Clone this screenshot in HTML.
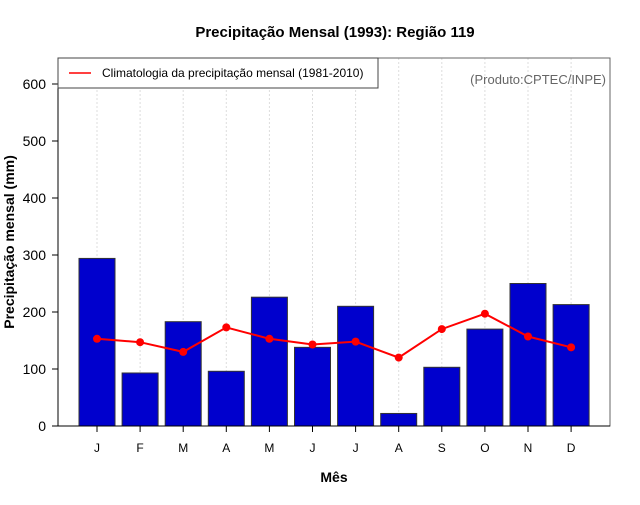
<!DOCTYPE html>
<html><head><meta charset="utf-8"><style>
body{margin:0;background:#fff}
svg{font-family:"Liberation Sans",sans-serif}
</style></head><body>
<svg id="c" width="640" height="500" xmlns="http://www.w3.org/2000/svg"></svg>
<script>
const months=["J","F","M","A","M","J","J","A","S","O","N","D"];
const precip=[294,93,183,96,226,138,210,22,103,170,250,213];
const clim=[153,147,130,173,153,143,148,120,170,197,157,138];
const yTicks=[0,100,200,300,400,500,600];
const svg=document.getElementById('c');
const NS='http://www.w3.org/2000/svg';
const L=58,R=610,T=58,B=426;
const y=v=>426-v*0.57;
const x=i=>97+i*43.1;
function add(tag,attrs,name,text){const e=document.createElementNS(NS,tag);for(const k in attrs)e.setAttribute(k,attrs[k]);


if(text!==undefined)e.textContent=text;svg.appendChild(e);return e;}
add('text',{x:335,y:37,'text-anchor':'middle','font-size':15,'font-weight':'bold'},'chart-title','Precipitação Mensal (1993): Região 119');
months.forEach((m,i)=>add('line',{x1:x(i),x2:x(i),y1:T,y2:B,stroke:'#ddd','stroke-dasharray':'2,2'},'grid-line'));
add('rect',{x:L,y:T,width:R-L,height:B-T,fill:'none',stroke:'#666'},'plot-border');
precip.forEach((v,i)=>add('rect',{x:x(i)-18,y:y(v),width:36,height:y(0)-y(v),fill:'#0000cd',stroke:'#333','stroke-width':1},'bar-'+i));
add('polyline',{points:clim.map((v,i)=>x(i)+','+y(v)).join(' '),fill:'none',stroke:'#f00','stroke-width':2},'climatology-line');
clim.forEach((v,i)=>add('circle',{cx:x(i),cy:y(v),r:4,fill:'#f00'},'climatology-point'));
add('line',{x1:L,x2:L,y1:T,y2:B,stroke:'#000'},'y-axis');
add('line',{x1:L,x2:R,y1:B,y2:B,stroke:'#000'},'x-axis');
yTicks.forEach(v=>{add('line',{x1:L-6,x2:L,y1:y(v),y2:y(v),stroke:'#000'},'y-tick');
add('text',{x:L-12,y:y(v)+5,'text-anchor':'end','font-size':14},'y-tick-label',v);});
months.forEach((m,i)=>{add('line',{x1:x(i),x2:x(i),y1:B,y2:B+6,stroke:'#000'},'x-tick');
add('text',{x:x(i),y:452,'text-anchor':'middle','font-size':12},'x-tick-label',m);});
add('text',{x:334,y:482,'text-anchor':'middle','font-size':14,'font-weight':'bold'},'x-axis-title','Mês');
add('text',{x:0,y:0,transform:'translate(14,242) rotate(-90)','text-anchor':'middle','font-size':14,'font-weight':'bold'},'y-axis-title','Precipitação mensal (mm)');
add('rect',{x:L,y:T,width:320,height:30,fill:'#fff',stroke:'#444'},'legend');
add('line',{x1:69,x2:91,y1:73,y2:73,stroke:'#f00','stroke-width':1.5},'legend-line');
add('text',{x:102,y:77,'font-size':12},'legend-label','Climatologia da precipitação mensal (1981-2010)');
add('text',{x:606,y:84,'text-anchor':'end','font-size':13,fill:'#666'},'source-label','(Produto:CPTEC/INPE)');
</script>
</body></html>
